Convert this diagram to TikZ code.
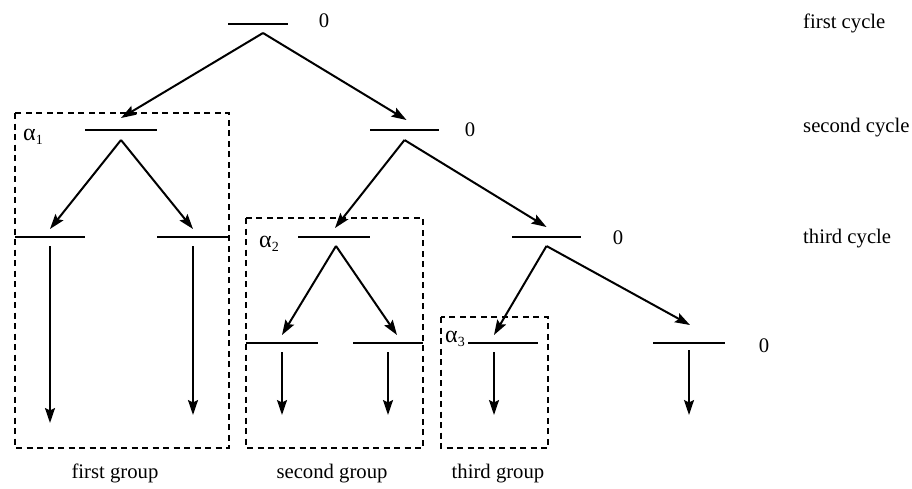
\documentclass[tikz,border=0pt]{standalone}
\usepackage{fontspec}
\setmainfont{Liberation Serif}
\usetikzlibrary{arrows.meta,calc}
\newcommand{\alphasub}[1]{{\fontsize{24}{26}\selectfont α}\raisebox{-4pt}{\fontsize{14}{15}\selectfont #1}}
\begin{document}
\begin{tikzpicture}[x=1pt,y=-1pt,
  every node/.style={font=\fontsize{20.7}{24}\selectfont},
  bar/.style={inner sep=0pt,outer sep=0pt,minimum height=0pt,draw=none},
  barline/.style={line width=2.7pt},
  arr/.style={line width=2pt,-{Stealth[length=15pt,width=10pt,inset=2.5pt]}},
  grp/.style={line width=2pt,dash pattern=on 6pt off 4.5pt},
  lab/.style={inner sep=0pt,anchor=base west},
  glab/.style={inner sep=0pt,anchor=base},
  zero/.style={inner sep=0pt,anchor=center}]
\useasboundingbox (0,0) rectangle (912,488);
% group boxes
\draw[grp] (15,113) rectangle (229,448);
\draw[grp] (246,218) rectangle (423,448);
\draw[grp] (441,317) rectangle (548,448);
% bars
\node[bar,minimum width=60pt] (r) at (258,24) {};
\node[bar,minimum width=72pt] (a) at (121,130) {};
\node[bar,minimum width=69pt] (b) at (404.5,130) {};
\node[bar,minimum width=70pt] (c1) at (50,237) {};
\node[bar,minimum width=71pt] (c2) at (192.5,237) {};
\node[bar,minimum width=72pt] (d) at (334,237) {};
\node[bar,minimum width=69pt] (e) at (546.5,237) {};
\node[bar,minimum width=72pt] (f1) at (282,343) {};
\node[bar,minimum width=70pt] (f2) at (388,343) {};
\node[bar,minimum width=70pt] (g1) at (503,343) {};
\node[bar,minimum width=72pt] (g2) at (689,343) {};
\foreach \n in {r,a,b,c1,c2,d,e,f1,f2,g1,g2}
  \draw[barline] (\n.west) -- (\n.east);
% tree arrows
\draw[arr] ($(r)+(5,9)$) -- ($(a)+(0,-12)$);
\draw[arr] ($(r)+(5,9)$) -- ($(b)+(2,-10)$);
\draw[arr] ($(a)+(0,10)$) -- ($(c1)+(0,-8)$);
\draw[arr] ($(a)+(0,10)$) -- ($(c2)+(0.5,-8)$);
\draw[arr] ($(b)+(0,10)$) -- ($(d)+(1,-9)$);
\draw[arr] ($(b)+(0,10)$) -- ($(e)+(0,-10)$);
\draw[arr] ($(d)+(2,9)$) -- ($(f1)+(0,-8)$);
\draw[arr] ($(d)+(2,9)$) -- ($(f2)+(9,-8)$);
\draw[arr] ($(e)+(0,9)$) -- ($(g1)+(-9,-8)$);
\draw[arr] ($(e)+(0,9)$) -- ($(g2)+(1,-18)$);
% vertical arrows
\draw[arr] ($(c1)+(0,9)$) -- ($(c1)+(0,186)$);
\draw[arr] ($(c2)+(0.5,9)$) -- ($(c2)+(0.5,178)$);
\draw[arr] ($(f1)+(0,9)$) -- ($(f1)+(0,72)$);
\draw[arr] ($(f2)+(0,9)$) -- ($(f2)+(0,72)$);
\draw[arr] ($(g1)+(-9,9)$) -- ($(g1)+(-9,72)$);
\draw[arr] ($(g2)+(0,7)$) -- ($(g2)+(0,72)$);
% zeros
\node[zero] (z0) at (324,21) {0};
\node[zero] (z1) at (470,130) {0};
\node[zero] (z2) at (618,238) {0};
\node[zero] (z3) at (764,346) {0};
% cycle labels
\node[lab] (cy1) at (803,28) {first cycle};
\node[lab] (cy2) at (803,132) {second cycle};
\node[lab] (cy3) at (803,243) {third cycle};
% alpha labels
\node[lab] (al1) at (23,140) {\alphasub{1}};
\node[lab] (al2) at (259,247) {\alphasub{2}};
\node[lab] (al3) at (445,342) {\alphasub{3}};
% group labels
\node[glab] (gr1) at (115,478) {first group};
\node[glab] (gr2) at (332,478) {second group};
\node[glab] (gr3) at (498,478) {third group};
\end{tikzpicture}
\end{document}
